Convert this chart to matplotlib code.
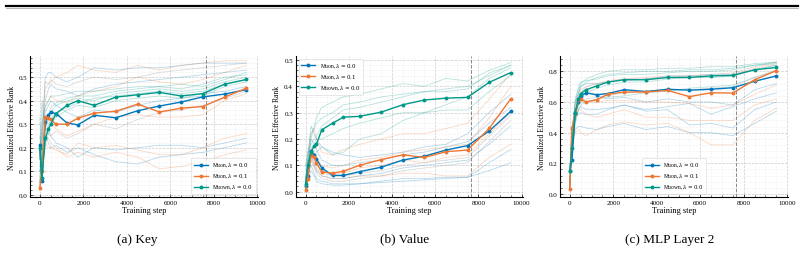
import matplotlib
matplotlib.use("Agg")
import matplotlib.pyplot as plt
from matplotlib.lines import Line2D
from matplotlib.ticker import AutoMinorLocator, MultipleLocator

# training steps at which the rank was logged
steps = [0, 100, 250, 400, 500, 750, 1250, 1750, 2500, 3500, 4500, 5500, 6500, 7500, 8500, 9500]

labels = [r"Muon, $\lambda=0.0$", r"Muon, $\lambda=0.1$", r"Muown, $\lambda=0.0$"]

# (a) Key -- mean curves
key_muon = [0.21, 0.06, 0.31, 0.34, 0.35, 0.345, 0.305, 0.297, 0.338, 0.327, 0.357, 0.377, 0.394, 0.416, 0.428, 0.447]
key_muon_wd = [0.03, 0.10, 0.33, 0.325, 0.32, 0.30, 0.30, 0.325, 0.347, 0.355, 0.385, 0.352, 0.368, 0.375, 0.415, 0.453]
key_muown = [0.20, 0.07, 0.24, 0.28, 0.30, 0.345, 0.38, 0.40, 0.38, 0.415, 0.425, 0.435, 0.42, 0.43, 0.47, 0.49]
# (a) Key -- individual layers
key_layers_muon = [
    [0.05, 0.20, 0.50, 0.52, 0.52, 0.50, 0.48, 0.50, 0.54, 0.53, 0.54, 0.54, 0.55, 0.56, 0.56, 0.56],
    [0.20, 0.10, 0.30, 0.28, 0.25, 0.22, 0.20, 0.16, 0.20, 0.19, 0.20, 0.21, 0.21, 0.20, 0.22, 0.24],
    [0.10, 0.15, 0.35, 0.38, 0.40, 0.38, 0.35, 0.33, 0.36, 0.35, 0.38, 0.40, 0.41, 0.43, 0.44, 0.46],
    [0.02, 0.08, 0.25, 0.22, 0.20, 0.21, 0.18, 0.20, 0.17, 0.14, 0.13, 0.16, 0.17, 0.18, 0.20, 0.22],
    [0.15, 0.25, 0.40, 0.45, 0.47, 0.45, 0.44, 0.42, 0.45, 0.47, 0.48, 0.49, 0.50, 0.51, 0.52, 0.53],
]
key_layers_muon_wd = [
    [0.05, 0.25, 0.45, 0.47, 0.48, 0.50, 0.52, 0.55, 0.53, 0.52, 0.55, 0.53, 0.55, 0.56, 0.57, 0.57],
    [0.20, 0.08, 0.25, 0.24, 0.22, 0.20, 0.16, 0.18, 0.16, 0.18, 0.16, 0.11, 0.12, 0.14, 0.17, 0.19],
    [0.03, 0.12, 0.30, 0.32, 0.30, 0.28, 0.25, 0.27, 0.30, 0.33, 0.34, 0.33, 0.33, 0.34, 0.40, 0.43],
    [0.10, 0.20, 0.38, 0.40, 0.42, 0.40, 0.39, 0.42, 0.44, 0.46, 0.50, 0.48, 0.47, 0.49, 0.52, 0.55],
    [0.05, 0.10, 0.22, 0.20, 0.20, 0.19, 0.17, 0.22, 0.20, 0.21, 0.19, 0.17, 0.17, 0.20, 0.24, 0.26],
]
key_layers_muown = [
    [0.15, 0.30, 0.37, 0.40, 0.42, 0.42, 0.43, 0.44, 0.44, 0.45, 0.46, 0.46, 0.45, 0.47, 0.50, 0.51],
    [0.25, 0.05, 0.30, 0.33, 0.35, 0.38, 0.40, 0.41, 0.40, 0.43, 0.44, 0.45, 0.44, 0.45, 0.48, 0.50],
    [0.10, 0.08, 0.22, 0.26, 0.30, 0.33, 0.36, 0.38, 0.37, 0.40, 0.41, 0.42, 0.41, 0.42, 0.46, 0.48],
    [0.33, 0.10, 0.20, 0.30, 0.32, 0.35, 0.37, 0.39, 0.41, 0.42, 0.43, 0.44, 0.43, 0.44, 0.47, 0.49],
    [0.12, 0.40, 0.28, 0.34, 0.37, 0.39, 0.41, 0.42, 0.42, 0.44, 0.45, 0.46, 0.47, 0.46, 0.49, 0.52],
]
key_layers_other = [
    [0.05, 0.30, 0.48, 0.47, 0.49, 0.47, 0.46, 0.48, 0.50, 0.49, 0.50, 0.52, 0.53, 0.54, 0.55, 0.56],
    [0.20, 0.15, 0.28, 0.26, 0.25, 0.27, 0.24, 0.26, 0.30, 0.28, 0.32, 0.35, 0.36, 0.38, 0.41, 0.44],
]

# (b) Value -- mean curves
val_muon = [0.02, 0.06, 0.155, 0.14, 0.125, 0.09, 0.062, 0.062, 0.076, 0.093, 0.12, 0.135, 0.158, 0.175, 0.23, 0.305]
val_muon_wd = [0.005, 0.05, 0.14, 0.13, 0.11, 0.075, 0.07, 0.078, 0.10, 0.122, 0.14, 0.13, 0.152, 0.158, 0.24, 0.352]
val_muown = [0.03, 0.10, 0.15, 0.175, 0.18, 0.235, 0.26, 0.283, 0.286, 0.302, 0.33, 0.348, 0.355, 0.358, 0.415, 0.452]
val_layers_muon = [
    [0.01, 0.05, 0.10, 0.07, 0.05, 0.04, 0.03, 0.03, 0.03, 0.04, 0.05, 0.05, 0.055, 0.055, 0.08, 0.11],
    [0.03, 0.10, 0.20, 0.18, 0.16, 0.12, 0.10, 0.10, 0.11, 0.12, 0.14, 0.15, 0.17, 0.19, 0.26, 0.32],
    [0.02, 0.07, 0.14, 0.10, 0.08, 0.06, 0.05, 0.05, 0.06, 0.07, 0.09, 0.10, 0.11, 0.12, 0.18, 0.25],
    [0.01, 0.04, 0.08, 0.06, 0.04, 0.03, 0.025, 0.025, 0.03, 0.035, 0.04, 0.045, 0.05, 0.055, 0.11, 0.16],
    [0.05, 0.12, 0.25, 0.22, 0.20, 0.17, 0.15, 0.14, 0.13, 0.14, 0.15, 0.17, 0.18, 0.22, 0.30, 0.37],
]
val_layers_muon_wd = [
    [0.01, 0.04, 0.12, 0.10, 0.08, 0.06, 0.05, 0.05, 0.06, 0.06, 0.07, 0.07, 0.06, 0.06, 0.13, 0.18],
    [0.02, 0.12, 0.22, 0.24, 0.20, 0.15, 0.14, 0.16, 0.18, 0.20, 0.22, 0.22, 0.24, 0.26, 0.35, 0.45],
    [0.01, 0.06, 0.15, 0.12, 0.10, 0.08, 0.07, 0.07, 0.09, 0.10, 0.12, 0.11, 0.13, 0.14, 0.22, 0.30],
    [0.03, 0.08, 0.17, 0.15, 0.13, 0.10, 0.09, 0.10, 0.12, 0.13, 0.15, 0.16, 0.17, 0.18, 0.28, 0.40],
]
val_layers_muown = [
    [0.05, 0.12, 0.20, 0.25, 0.28, 0.32, 0.34, 0.36, 0.37, 0.39, 0.41, 0.40, 0.43, 0.42, 0.46, 0.49],
    [0.10, 0.15, 0.18, 0.20, 0.21, 0.25, 0.28, 0.31, 0.32, 0.34, 0.36, 0.38, 0.39, 0.40, 0.44, 0.48],
    [0.02, 0.08, 0.12, 0.14, 0.15, 0.17, 0.14, 0.15, 0.20, 0.22, 0.27, 0.30, 0.33, 0.36, 0.43, 0.47],
    [0.08, 0.15, 0.22, 0.24, 0.26, 0.28, 0.30, 0.33, 0.34, 0.36, 0.37, 0.38, 0.38, 0.39, 0.45, 0.48],
    [0.04, 0.10, 0.16, 0.18, 0.20, 0.20, 0.22, 0.24, 0.26, 0.28, 0.30, 0.30, 0.31, 0.31, 0.38, 0.44],
]
val_layers_other = [
    [0.01, 0.05, 0.12, 0.09, 0.07, 0.05, 0.04, 0.04, 0.05, 0.06, 0.08, 0.09, 0.10, 0.11, 0.19, 0.27],
    [0.02, 0.06, 0.13, 0.11, 0.09, 0.07, 0.06, 0.06, 0.07, 0.08, 0.10, 0.11, 0.12, 0.13, 0.21, 0.29],
]

# (c) MLP Layer 2 -- mean curves
mlp_muon = [0.15, 0.22, 0.53, 0.60, 0.64, 0.66, 0.647, 0.655, 0.68, 0.668, 0.683, 0.677, 0.683, 0.693, 0.735, 0.77]
mlp_muon_wd = [0.03, 0.43, 0.52, 0.61, 0.62, 0.60, 0.615, 0.65, 0.665, 0.665, 0.675, 0.635, 0.66, 0.658, 0.745, 0.805]
mlp_muown = [0.15, 0.30, 0.53, 0.62, 0.655, 0.68, 0.705, 0.73, 0.745, 0.745, 0.76, 0.76, 0.77, 0.773, 0.81, 0.825]
mlp_layers_muon = [
    [0.05, 0.30, 0.50, 0.52, 0.53, 0.52, 0.52, 0.55, 0.58, 0.55, 0.57, 0.59, 0.52, 0.57, 0.62, 0.66],
    [0.10, 0.30, 0.42, 0.44, 0.44, 0.43, 0.42, 0.44, 0.46, 0.42, 0.44, 0.40, 0.40, 0.38, 0.46, 0.54],
    [0.05, 0.35, 0.55, 0.60, 0.65, 0.66, 0.64, 0.62, 0.63, 0.60, 0.62, 0.60, 0.60, 0.58, 0.68, 0.72],
    [0.15, 0.40, 0.60, 0.66, 0.70, 0.72, 0.72, 0.73, 0.75, 0.75, 0.77, 0.77, 0.78, 0.78, 0.81, 0.84],
    [0.08, 0.32, 0.48, 0.55, 0.57, 0.55, 0.55, 0.56, 0.58, 0.54, 0.55, 0.45, 0.46, 0.43, 0.55, 0.60],
]
mlp_layers_muon_wd = [
    [0.03, 0.35, 0.40, 0.42, 0.40, 0.38, 0.42, 0.45, 0.47, 0.45, 0.46, 0.40, 0.32, 0.32, 0.48, 0.56],
    [0.04, 0.40, 0.55, 0.58, 0.60, 0.60, 0.60, 0.61, 0.61, 0.60, 0.60, 0.59, 0.56, 0.58, 0.65, 0.71],
    [0.05, 0.38, 0.50, 0.55, 0.55, 0.52, 0.50, 0.52, 0.55, 0.50, 0.50, 0.48, 0.48, 0.48, 0.58, 0.62],
    [0.06, 0.42, 0.58, 0.65, 0.68, 0.70, 0.72, 0.74, 0.75, 0.76, 0.77, 0.77, 0.77, 0.78, 0.82, 0.85],
]
mlp_layers_muown = [
    [0.10, 0.35, 0.60, 0.68, 0.72, 0.75, 0.78, 0.80, 0.81, 0.81, 0.82, 0.82, 0.83, 0.83, 0.85, 0.86],
    [0.05, 0.30, 0.55, 0.65, 0.70, 0.73, 0.76, 0.78, 0.79, 0.80, 0.80, 0.81, 0.81, 0.82, 0.84, 0.86],
    [0.15, 0.40, 0.62, 0.70, 0.73, 0.74, 0.75, 0.77, 0.78, 0.78, 0.79, 0.80, 0.80, 0.81, 0.84, 0.85],
    [0.08, 0.28, 0.50, 0.58, 0.62, 0.66, 0.69, 0.71, 0.73, 0.73, 0.75, 0.76, 0.76, 0.77, 0.81, 0.84],
    [0.04, 0.25, 0.45, 0.55, 0.58, 0.60, 0.62, 0.63, 0.64, 0.66, 0.67, 0.69, 0.70, 0.71, 0.76, 0.80],
]
mlp_layers_other = [
    [0.08, 0.35, 0.55, 0.62, 0.66, 0.70, 0.72, 0.73, 0.74, 0.75, 0.76, 0.77, 0.78, 0.79, 0.83, 0.86],
    [0.05, 0.30, 0.52, 0.58, 0.60, 0.62, 0.63, 0.64, 0.66, 0.67, 0.68, 0.68, 0.69, 0.70, 0.76, 0.81],
]

colors = ["#0077BB", "#EE7733", "#009988"]
gray = "#999999"
lr_decay_step = 7650

plt.rcParams["font.family"] = ["Liberation Serif", "DejaVu Serif"]
plt.rcParams["mathtext.fontset"] = "dejavuserif"


def panel(ax, means, layers, others, ylim, ymajor, legend_loc, caption_x, caption):
    for k, group in enumerate(layers):
        for y in group:
            ax.plot(steps, y, color=colors[k], lw=0.6, alpha=0.28, zorder=1)
    for y in others:
        ax.plot(steps, y, color=gray, lw=0.6, alpha=0.35, zorder=1)
    for k, y in enumerate(means):
        ax.plot(steps, y, color=colors[k], lw=1.0, marker="o", ms=1.8,
                label=labels[k], zorder=3)
    ax.axvline(lr_decay_step, color="#888888", lw=0.7, ls="--", zorder=2)

    ax.set_xlim(-450, 10050)
    ax.set_ylim(*ylim)
    ax.xaxis.set_major_locator(MultipleLocator(2000))
    ax.yaxis.set_major_locator(MultipleLocator(ymajor))
    ax.xaxis.set_minor_locator(AutoMinorLocator(4))
    ax.yaxis.set_minor_locator(AutoMinorLocator(5))
    ax.grid(True, which="major", ls="--", lw=0.5, color="#cccccc")
    ax.grid(True, which="minor", ls=":", lw=0.4, color="#e2e2e2")
    ax.set_axisbelow(True)
    for side in ["top", "right"]:
        ax.spines[side].set_visible(False)
    for side in ["left", "bottom"]:
        ax.spines[side].set_linewidth(0.8)
    ax.tick_params(which="both", direction="in", labelsize=5, pad=2)
    ax.tick_params(which="major", length=2.5, width=0.5)
    ax.tick_params(which="minor", length=1.5, width=0.4)
    ax.set_xlabel("Training step", fontsize=6, labelpad=1)
    ax.set_ylabel("Normalized Effective Rank", fontsize=5.5, labelpad=2)
    leg = ax.legend(loc=legend_loc, fontsize=4, frameon=True, fancybox=True,
                    handlelength=2.5, borderpad=0.5, labelspacing=0.5)
    leg.get_frame().set_linewidth(0.4)
    fig.text(caption_x, 0.06, caption, ha="center", va="center", fontsize=9.5)


fig = plt.figure(figsize=(8.04, 2.55), dpi=100)
ax_a = fig.add_axes([0.0373, 0.2235, 0.284, 0.553])
ax_b = fig.add_axes([0.368, 0.2235, 0.282, 0.553])
ax_c = fig.add_axes([0.6965, 0.2235, 0.284, 0.553])

panel(ax_a, [key_muon, key_muon_wd, key_muown],
      [key_layers_muon, key_layers_muon_wd, key_layers_muown], key_layers_other,
      (-0.01, 0.59), 0.1, "lower right", 0.171, "(a) Key")
panel(ax_b, [val_muon, val_muon_wd, val_muown],
      [val_layers_muon, val_layers_muon_wd, val_layers_muown], val_layers_other,
      (-0.02, 0.515), 0.1, "upper left", 0.503, "(b) Value")
panel(ax_c, [mlp_muon, mlp_muon_wd, mlp_muown],
      [mlp_layers_muon, mlp_layers_muon_wd, mlp_layers_muown], mlp_layers_other,
      (-0.02, 0.9), 0.2, "lower center", 0.833, "(c) MLP Layer 2")

# page rule above the figure
fig.add_artist(Line2D([0.007, 0.993], [0.972, 0.972], color="black", lw=1.6))
fig.add_artist(Line2D([0.007, 0.993], [0.965, 0.965], color="#aaaaaa", lw=0.6))

fig.savefig("out.png", dpi=100)
